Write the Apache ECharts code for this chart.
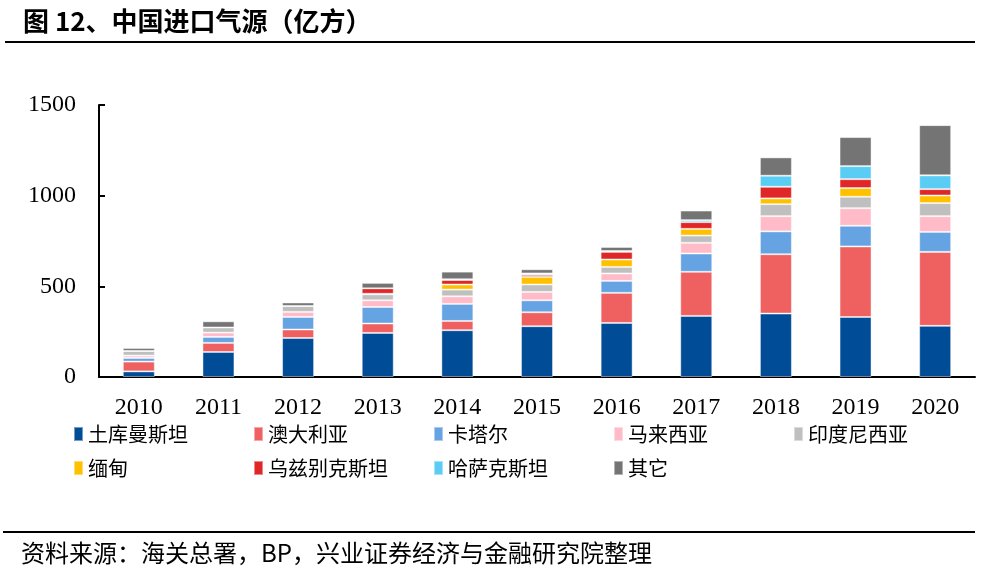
<!DOCTYPE html>
<html>
<head>
<meta charset="utf-8">
<script src="https://cdn.jsdelivr.net/npm/echarts@6/dist/echarts.min.js"></script>
<style>
html,body{margin:0;padding:0;background:#fff;}
#c{width:995px;height:569px;}
</style>
</head>
<body>
<div id="c"></div>
<script>
const years = ['2010','2011','2012','2013','2014','2015','2016','2017','2018','2019','2020'];
const turkmenistan = [31,138,215,243,258,280,298,337,350,331,282];
const australia    = [54,50,47,52,51,77,166,243,327,389,408];
const qatar        = [20,33,69,91,94,66,66,101,126,114,110];
const malaysia     = [13,24,28,37,42,46,41,59,84,97,87];
const indonesia    = [26,28,33,33,37,41,36,40,66,63,72];
const myanmar      = [0,0,0,3,28,42,41,37,32,48,42];
const uzbekistan   = [0,0,0,30,25,11,42,37,64,49,35];
const kazakhstan   = [0,0,0,0,4,8,5,11,61,72,76];
const others       = [16,34,19,30,42,23,22,53,101,160,277];

const seriesNames = ['土库曼斯坦','澳大利亚','卡塔尔','马来西亚','印度尼西亚','缅甸','乌兹别克斯坦','哈萨克斯坦','其它'];
const seriesData = [turkmenistan, australia, qatar, malaysia, indonesia, myanmar, uzbekistan, kazakhstan, others];
const colors = ['#004C97','#EF6060','#66A3E3','#FFBCC8','#BFBFBF','#FFC000','#E02626','#5BCDF5','#747474'];

const cjk = '"Noto Sans CJK SC", sans-serif';
const serif = '"Liberation Serif", "DejaVu Serif", serif';

const legendPos = [
  [68,419],[248,419],[428,419],[608,419],[788,419],
  [68,453],[248,453],[428,453],[608,453]
];
const legends = seriesNames.map((n,i)=>({
  data:[n], left: legendPos[i][0], top: legendPos[i][1],
  icon:'rect', itemWidth:9, itemHeight:14, itemGap:6,
  textStyle:{fontFamily:cjk, fontSize:20, color:'#000'},
  selectedMode:false
}));

const chart = echarts.init(document.getElementById('c'));
chart.setOption({
  animation:false,
  color: colors,
  title:[
    {text:'图 12、中国进口气源（亿方）', left:18, top:3,
     textStyle:{fontFamily:cjk, fontSize:26, fontWeight:'bold', color:'#000'}},
    {text:'资料来源：海关总署，BP，兴业证券经济与金融研究院整理', left:16, top:536,
     textStyle:{fontFamily:cjk, fontSize:24, fontWeight:'normal', color:'#000'}}
  ],
  graphic:[
    {type:'line', shape:{x1:5,y1:42,x2:975,y2:42}, style:{stroke:'#000', lineWidth:2}},
    {type:'line', shape:{x1:3,y1:532,x2:975,y2:532}, style:{stroke:'#000', lineWidth:2}}
  ],
  legend: legends,
  grid:{left:99, right:20, top:105, bottom:192, containLabel:false},
  xAxis:{
    type:'category', data:years,
    axisLine:{lineStyle:{color:'#000', width:2}},
    axisTick:{show:false},
    axisLabel:{fontFamily:serif, fontSize:24, color:'#000', margin:19}
  },
  yAxis:{
    type:'value', min:0, max:1500, interval:500,
    axisLine:{show:true, lineStyle:{color:'#000', width:2}},
    axisTick:{show:true, inside:true, length:6, lineStyle:{color:'#000', width:2}},
    splitLine:{show:false},
    axisLabel:{fontFamily:serif, fontSize:24, color:'#000', margin:23, formatter:(v)=>String(v)}
  },
  series: seriesNames.map((n,i)=>({
    name:n, type:'bar', stack:'total', barWidth:32,
    data: seriesData[i],
    itemStyle:{color:colors[i], borderColor:'rgba(255,255,255,0.45)', borderWidth:1}
  }))
});
</script>
</body>
</html>
